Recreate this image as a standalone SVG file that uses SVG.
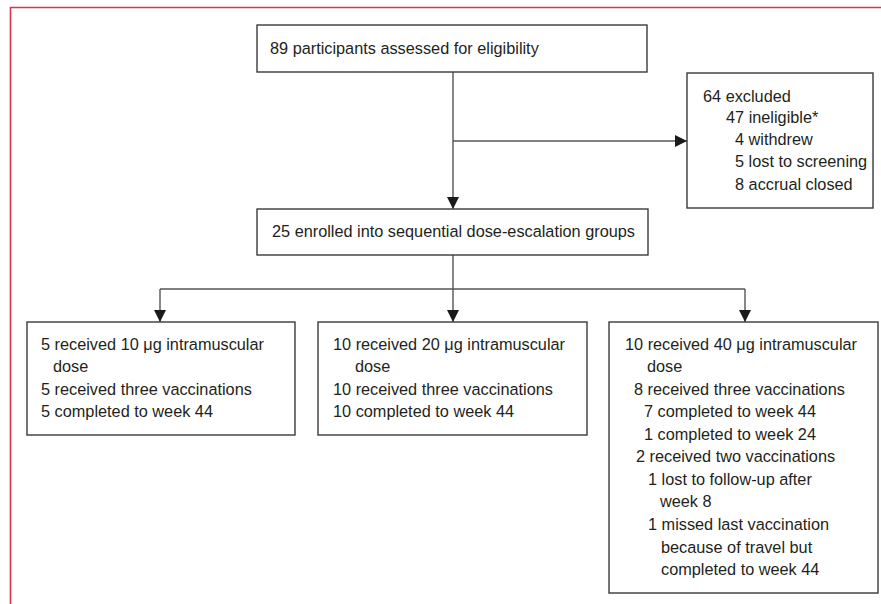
<svg xmlns="http://www.w3.org/2000/svg" width="881" height="604" viewBox="0 0 881 604">
<defs>
<marker id="arr" viewBox="0 0 12 12" refX="12" refY="6" markerWidth="12" markerHeight="12" markerUnits="userSpaceOnUse" orient="auto">
<path d="M0,0 L12,6 L0,12 Z" fill="#1a1a1a"/>
</marker>
<style>
.box{fill:#fff;stroke:#3a3a3a;stroke-width:1.4}
.ln{fill:none;stroke:#555;stroke-width:1.4}
text{font-family:"Liberation Sans",Arial,sans-serif;font-size:16.3px;fill:#231f20}
</style>
</defs>
<rect width="881" height="604" fill="#fff"/>
<path d="M10.5,604 V7.5 H881" fill="none" stroke="#d8344c" stroke-width="1.6"/>
<g id="connectors">
<path class="ln" d="M453,72 V209" marker-end="url(#arr)"/>
<path class="ln" d="M453,141 H687" marker-end="url(#arr)"/>
<path class="ln" d="M453,255 V289"/>
<path class="ln" d="M160,289 H745"/>
<path class="ln" d="M160,289 V322" marker-end="url(#arr)"/>
<path class="ln" d="M453,289 V322" marker-end="url(#arr)"/>
<path class="ln" d="M745,289 V322" marker-end="url(#arr)"/>
</g>
<g id="assessed">
<rect class="box" x="257" y="25" width="390" height="47"/>
<text x="270" y="54">89 participants assessed for eligibility</text>
</g>
<g id="excluded">
<rect class="box" x="687" y="73" width="186" height="135"/>
<text x="703" y="102">64 excluded</text>
<text x="726" y="123">47 ineligible*</text>
<text x="735" y="145">4 withdrew</text>
<text x="735" y="167">5 lost to screening</text>
<text x="735" y="190">8 accrual closed</text>
</g>
<g id="enrolled">
<rect class="box" x="257" y="209" width="391" height="46"/>
<text x="272" y="237">25 enrolled into sequential dose-escalation groups</text>
</g>
<g id="dose10">
<rect class="box" x="27" y="322" width="268" height="113"/>
<text x="41" y="350">5 received 10 μg intramuscular</text>
<text x="53" y="372">dose</text>
<text x="41" y="395">5 received three vaccinations</text>
<text x="41" y="417">5 completed to week 44</text>
</g>
<g id="dose20">
<rect class="box" x="318" y="322" width="269" height="113"/>
<text x="333" y="350">10 received 20 μg intramuscular</text>
<text x="355" y="372">dose</text>
<text x="333" y="395">10 received three vaccinations</text>
<text x="333" y="417">10 completed to week 44</text>
</g>
<g id="dose40">
<rect class="box" x="609" y="322" width="269" height="271"/>
<text x="625" y="350">10 received 40 μg intramuscular</text>
<text x="647" y="372">dose</text>
<text x="634" y="395">8 received three vaccinations</text>
<text x="644" y="417">7 completed to week 44</text>
<text x="644" y="440">1 completed to week 24</text>
<text x="636" y="462">2 received two vaccinations</text>
<text x="648" y="485">1 lost to follow-up after</text>
<text x="660" y="507">week 8</text>
<text x="648" y="530">1 missed last vaccination</text>
<text x="661" y="553">because of travel but</text>
<text x="661" y="575">completed to week 44</text>
</g>
</svg>
